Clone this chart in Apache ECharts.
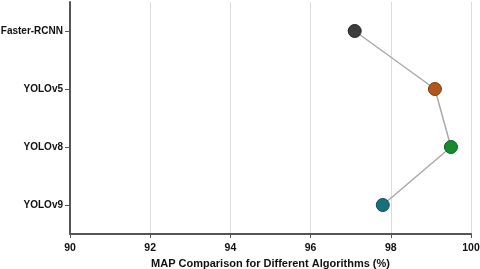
<!DOCTYPE html>
<html><head><meta charset="utf-8">
<script src="https://cdn.jsdelivr.net/npm/echarts@6/dist/echarts.min.js"></script>
<style>html,body{margin:0;padding:0;background:#fff}#c{width:480px;height:269px}</style>
</head><body><div id="c"></div>
<script>
const categories = ['Faster-RCNN', 'YOLOv5', 'YOLOv8', 'YOLOv9'];
const mapValues = [97.1, 99.1, 99.5, 97.8];
const pointColors = ['#3d3d3f', '#b4561c', '#168a2e', '#17707f'];
const borderColors = ['#222224', '#7a3a12', '#0e5e1e', '#0e4c57'];
const xTicks = [90, 92, 94, 96, 98, 100];

const chart = echarts.init(document.getElementById('c'));
chart.setOption({
  animation: false,
  grid: {left: 70, right: 9, top: 2, bottom: 35, containLabel: false, outerBoundsMode: 'none'},
  xAxis: {
    type: 'value', min: xTicks[0], max: xTicks[xTicks.length-1], interval: 2,
    name: 'MAP Comparison for Different Algorithms (%)',
    nameLocation: 'middle', nameGap: 23,
    nameTextStyle: {fontFamily: 'Liberation Sans', fontWeight: 'bold', fontSize: 11, color: '#111'},
    axisLine: {show: true, lineStyle: {color: '#555', width: 2}},
    axisTick: {show: true, length: 4, lineStyle: {color: '#555', width: 1}},
    axisLabel: {fontFamily: 'Liberation Sans', fontWeight: 'bold', fontSize: 10.5, color: '#111', margin: 9},
    splitLine: {show: true, lineStyle: {color: '#dcdcdc', width: 1}}
  },
  yAxis: {
    type: 'category', data: categories, inverse: true,
    axisLine: {show: true, lineStyle: {color: '#555', width: 2}},
    axisTick: {show: true, alignWithLabel: true, length: 5, lineStyle: {color: '#555', width: 1}},
    axisLabel: {fontFamily: 'Liberation Sans', fontWeight: 'bold', fontSize: 10, color: '#111', margin: 7},
    splitLine: {show: false}
  },
  series: [{
    type: 'line',
    data: mapValues.map((v, i) => ({value: [v, categories[i]], itemStyle: {color: pointColors[i], borderColor: borderColors[i]}})),
    lineStyle: {color: '#aaaaaa', width: 1.5},
    symbol: 'circle', symbolSize: 13,
    itemStyle: {borderWidth: 1},
    z: 3
  }]
});
</script></body></html>
